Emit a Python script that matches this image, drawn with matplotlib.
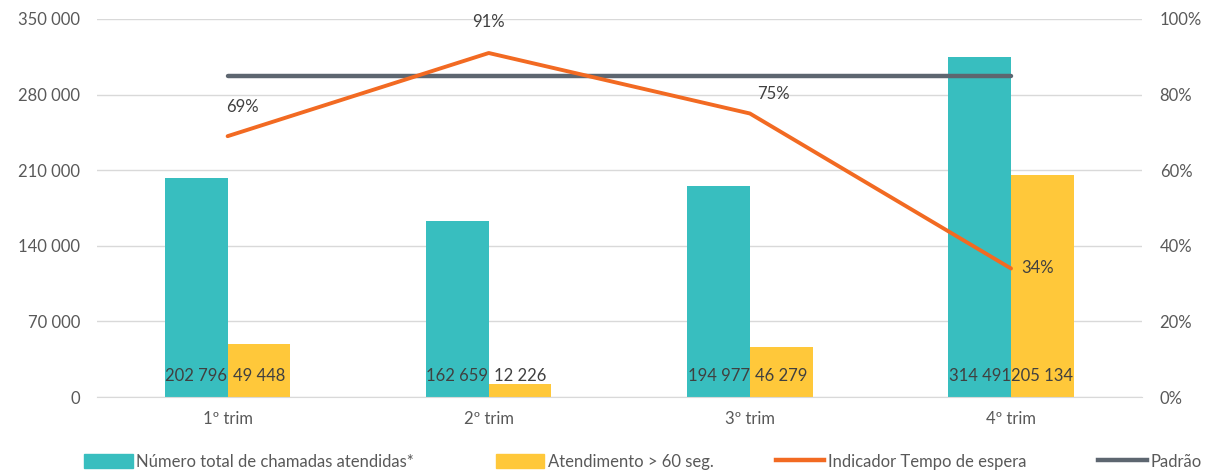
import matplotlib
matplotlib.use("Agg")
import matplotlib.pyplot as plt
from matplotlib.patches import Patch
from matplotlib.lines import Line2D
import numpy as np

categories = ["1º trim", "2º trim", "3º trim", "4º trim"]
total_calls = [202796, 162659, 194977, 314491]
calls_over_60 = [49448, 12226, 46279, 205134]
wait_indicator = [0.69, 0.91, 0.75, 0.34]
standard = [0.85, 0.85, 0.85, 0.85]

TEAL = "#38BEBF"
YELLOW = "#FFC83A"
ORANGE = "#F26A22"
GRAY = "#5D6670"
TEXT = "#595959"
DARK = "#404040"
FS = 12

plt.rcParams['font.family'] = ['Lato', 'DejaVu Sans']


def fmt(v):
    return f"{v:,}".replace(",", " ")


fig = plt.figure(figsize=(12.07, 4.70), dpi=100)
ax = fig.add_axes([0.0804, 0.1553, 0.8654, 0.8043])
ax2 = ax.twinx()

x = np.arange(len(categories))
w = 0.24
b1 = ax.bar(x - w / 2, total_calls, w, color=TEAL, zorder=2)
b2 = ax.bar(x + w / 2, calls_over_60, w, color=YELLOW, zorder=2)

for rect, v in zip(list(b1) + list(b2), total_calls + calls_over_60):
    ax.text(rect.get_x() + rect.get_width() / 2, 19000, fmt(v),
            ha="center", va="center", fontsize=FS, color=DARK, zorder=3)

ax.set_xlim(-0.5, 3.5)
ax.set_ylim(0, 350000)
ax.set_yticks(np.arange(0, 350001, 70000))
ax.set_yticklabels([fmt(v) for v in range(0, 350001, 70000)])
ax.grid(axis="y", color="#D9D9D9", linewidth=1, zorder=0)
ax.set_axisbelow(True)
ax.set_xticks(x)
ax.set_xticklabels(categories)

ax2.plot(x, standard, color=GRAY, linewidth=3.2, solid_capstyle="round", zorder=4)
ax2.plot(x, wait_indicator, color=ORANGE, linewidth=2.8, solid_capstyle="round", zorder=5)
ax2.set_ylim(0, 1.0)
ax2.set_yticks(np.arange(0, 1.01, 0.2))
ax2.set_yticklabels([f"{int(round(v * 100))}%" for v in np.arange(0, 1.01, 0.2)])

offsets = [(11, 21), (0, 22), (17, 14), (19, 0)]
for xi, v, off in zip(x, wait_indicator, offsets):
    ax2.annotate(f"{int(round(v * 100))}%", (xi, v), xytext=off,
                 textcoords="offset points", ha="center", va="center",
                 fontsize=FS, color=DARK)

for a in (ax, ax2):
    for s in ("top", "left", "right"):
        a.spines[s].set_visible(False)
    a.tick_params(length=0, labelsize=FS, labelcolor=TEXT)
ax.spines["bottom"].set_color("#D9D9D9")
ax2.spines["bottom"].set_visible(False)
ax.tick_params(axis="x", pad=10)
ax.tick_params(axis="y", pad=12)
ax2.tick_params(axis="y", pad=13)

# legend entries laid out along the bottom edge
entries = [
    (Patch(color=TEAL), "Número total de chamadas atendidas*", 0.070),
    (Patch(color=YELLOW), "Atendimento > 60 seg.", 0.411),
    (Line2D([], [], color=ORANGE, linewidth=3.2), "Indicador Tempo de espera", 0.643),
    (Line2D([], [], color=GRAY, linewidth=3.2), "Padrão", 0.910),
]
for handle, label, xpos in entries:
    fig.legend([handle], [label], loc="center left", bbox_to_anchor=(xpos, 0.018),
               frameon=False, fontsize=FS, handlelength=2.9, handleheight=0.9,
               handletextpad=0.2, labelcolor=TEXT, borderaxespad=0, borderpad=0)

fig.savefig("out.png", dpi=100)
